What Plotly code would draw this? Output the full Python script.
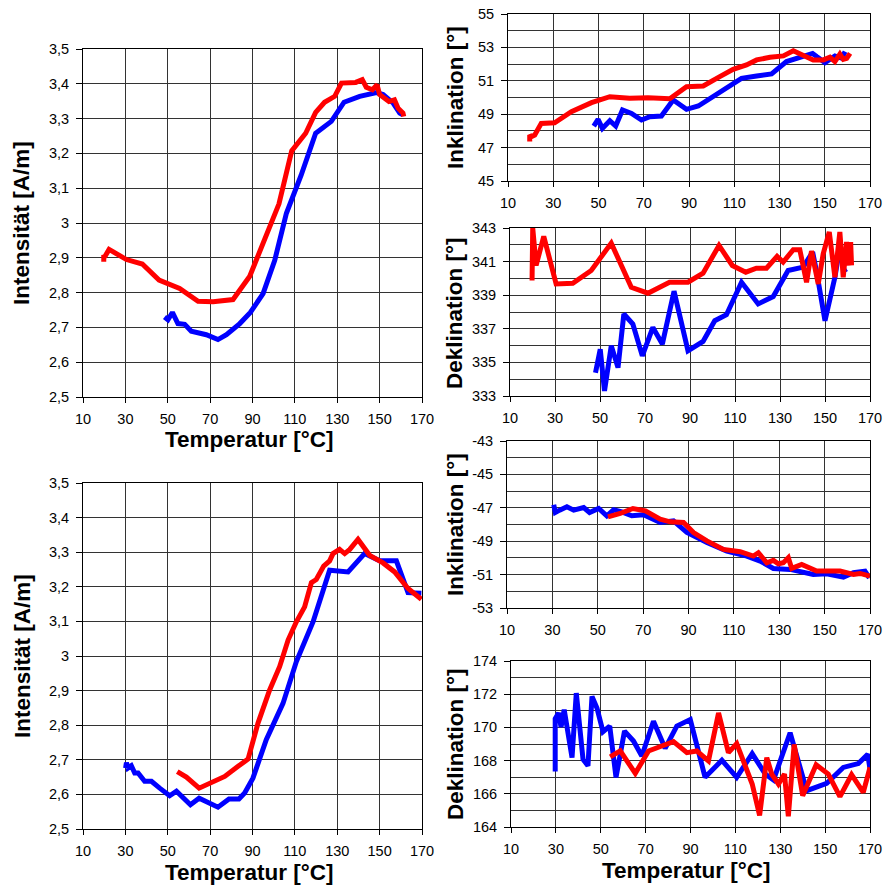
import plotly.graph_objects as go

# ---------------- data ----------------
# Top-left: Intensität
tl_blue_T = [48.5, 50.1, 52.2, 54.8, 58.0, 61.1, 68.2, 73.7, 77.7, 84.0, 89.0, 95.0, 100.5, 106.0, 113.0, 119.8, 127.2, 133.2, 140.6, 148.5, 151.6, 156.3, 159.5, 161.0]
tl_blue_v = [2.730, 2.722, 2.743, 2.711, 2.709, 2.689, 2.679, 2.665, 2.679, 2.711, 2.743, 2.797, 2.893, 3.028, 3.138, 3.258, 3.292, 3.347, 3.364, 3.375, 3.369, 3.345, 3.316, 3.311]
tl_red_T = [19.8, 19.8, 20.2, 22.3, 30.5, 38.0, 45.9, 55.6, 64.3, 71.4, 80.8, 88.7, 95.0, 102.5, 108.5, 115.1, 119.8, 124.0, 128.8, 132.0, 138.7, 141.8, 143.7, 146.6, 148.8, 150.0, 154.4, 157.0, 158.7, 161.0, 161.4]
tl_red_v = [2.889, 2.908, 2.902, 2.924, 2.895, 2.882, 2.836, 2.812, 2.775, 2.774, 2.780, 2.847, 2.941, 3.055, 3.207, 3.258, 3.318, 3.347, 3.364, 3.402, 3.404, 3.412, 3.390, 3.383, 3.397, 3.369, 3.349, 3.354, 3.330, 3.316, 3.306]

# Bottom-left: Intensität
bl_blue_T = [30.1, 30.5, 31.2, 32.8, 34.4, 36.0, 39.1, 42.3, 46.2, 50.9, 54.1, 60.7, 64.8, 69.0, 73.7, 78.9, 83.6, 86.3, 90.2, 96.5, 104.4, 110.7, 118.6, 126.4, 135.1, 142.9, 150.0, 157.9, 163.4, 169.7]
bl_blue_v = [2.676, 2.692, 2.676, 2.683, 2.662, 2.662, 2.638, 2.638, 2.618, 2.596, 2.609, 2.570, 2.589, 2.575, 2.563, 2.587, 2.587, 2.604, 2.647, 2.758, 2.863, 2.984, 3.099, 3.248, 3.243, 3.296, 3.275, 3.275, 3.183, 3.181]
bl_red_T = [54.5, 58.8, 64.8, 70.6, 76.9, 83.2, 87.9, 92.6, 98.1, 102.8, 106.8, 110.7, 114.6, 117.8, 120.1, 123.6, 126.4, 128.0, 131.1, 133.5, 135.9, 139.8, 145.3, 151.6, 157.1, 163.4, 169.7]
bl_red_v = [2.666, 2.650, 2.618, 2.633, 2.652, 2.681, 2.702, 2.806, 2.902, 2.969, 3.046, 3.099, 3.142, 3.212, 3.221, 3.260, 3.275, 3.296, 3.308, 3.296, 3.308, 3.337, 3.291, 3.269, 3.243, 3.195, 3.164]

# Top-right: Inklination
ti_blue_T = [47.9, 49.8, 51.7, 55.0, 57.6, 60.6, 64.6, 69.0, 72.7, 77.8, 83.0, 88.9, 94.1, 100.7, 106.6, 113.2, 119.9, 126.5, 133.1, 139.0, 144.6, 146.4, 150.1, 154.5, 157.5, 159.0]
ti_blue_v = [48.29, 48.69, 48.15, 48.61, 48.29, 49.25, 49.05, 48.65, 48.85, 48.89, 49.85, 49.29, 49.49, 50.05, 50.55, 51.15, 51.29, 51.41, 52.15, 52.41, 52.64, 52.45, 52.09, 52.49, 52.35, 52.75]
ti_red_T = [19.6, 19.6, 20.3, 21.8, 24.7, 30.6, 38.0, 46.9, 55.0, 63.8, 71.9, 81.5, 88.9, 96.3, 103.6, 109.5, 115.4, 119.9, 125.8, 129.5, 131.7, 136.1, 140.5, 144.9, 149.4, 152.3, 154.5, 156.7, 158.2, 159.7, 161.2]
ti_red_v = [47.36, 47.75, 47.65, 47.75, 48.45, 48.49, 49.15, 49.69, 50.05, 49.95, 49.99, 49.93, 50.65, 50.69, 51.25, 51.69, 51.95, 52.25, 52.41, 52.49, 52.49, 52.80, 52.54, 52.25, 52.25, 52.41, 52.15, 52.60, 52.29, 52.35, 52.64]

# Top-right: Deklination
td_blue_T = [48.0, 50.1, 52.0, 55.0, 58.0, 60.6, 64.6, 68.8, 73.5, 77.7, 82.9, 89.1, 95.8, 101.0, 106.2, 112.9, 120.3, 127.0, 133.6, 140.3, 144.5, 146.3, 150.0, 154.4, 156.6, 158.4, 159.6]
td_blue_v = [334.39, 335.79, 333.30, 335.99, 334.69, 337.88, 337.28, 335.39, 337.08, 336.09, 339.24, 335.69, 336.25, 337.48, 337.84, 339.77, 338.48, 338.92, 340.47, 340.67, 341.57, 340.37, 337.48, 340.07, 341.86, 340.47, 340.57]
td_red_T = [19.8, 20.1, 21.6, 25.0, 30.5, 37.9, 46.1, 55.0, 63.9, 71.3, 80.9, 89.1, 95.8, 102.9, 108.8, 114.8, 119.5, 124.0, 128.7, 131.4, 135.9, 138.8, 141.8, 144.0, 147.0, 149.2, 151.9, 154.4, 156.6, 158.1, 159.6, 160.8, 161.4, 161.8]
td_red_v = [339.87, 343.00, 340.77, 342.50, 339.67, 339.71, 340.47, 342.10, 339.47, 339.12, 339.77, 339.77, 340.31, 341.96, 340.77, 340.37, 340.61, 340.61, 341.31, 340.97, 341.71, 341.71, 339.77, 341.63, 339.67, 341.47, 342.76, 340.07, 342.76, 340.07, 342.16, 340.77, 342.16, 340.77]

# Bottom-right: Inklination
bi_blue_T = [30.6, 31.3, 33.2, 36.4, 39.4, 43.8, 46.4, 50.4, 54.0, 57.0, 60.6, 65.0, 70.2, 77.5, 83.4, 89.3, 98.1, 106.9, 115.7, 121.6, 127.4, 134.8, 145.0, 150.9, 158.3, 162.7, 167.8, 169.7]
bi_blue_v = [-46.82, -47.28, -47.14, -46.94, -47.14, -46.98, -47.28, -47.04, -47.48, -47.12, -47.24, -47.48, -47.42, -47.88, -47.78, -48.48, -49.08, -49.59, -49.89, -50.19, -50.63, -50.69, -50.99, -50.95, -51.15, -50.89, -50.79, -51.19]
bi_red_T = [54.5, 59.9, 65.5, 71.0, 77.5, 81.9, 87.8, 92.2, 98.1, 105.4, 112.8, 118.6, 120.8, 124.5, 127.4, 129.6, 131.8, 134.0, 135.5, 139.9, 146.5, 153.1, 156.8, 162.7, 165.6, 170.0]
bi_red_v = [-47.54, -47.34, -47.04, -47.18, -47.68, -47.84, -47.88, -48.48, -48.98, -49.49, -49.63, -49.89, -49.69, -50.29, -50.15, -50.35, -50.29, -49.99, -50.63, -50.39, -50.79, -50.75, -50.79, -50.99, -50.93, -51.09]

# Bottom-right: Deklination
bd_blue_T = [29.7, 29.7, 31.2, 32.3, 33.7, 37.2, 39.1, 42.1, 44.3, 46.1, 48.3, 51.0, 54.0, 56.8, 60.6, 64.6, 68.3, 73.5, 78.7, 83.9, 89.9, 96.5, 104.0, 110.6, 117.5, 123.3, 127.0, 134.4, 141.8, 150.7, 158.1, 164.8, 169.0, 170.0]
bd_blue_v = [167.35, 170.53, 170.87, 170.02, 171.07, 168.18, 172.07, 168.08, 167.69, 171.87, 171.17, 169.74, 170.08, 166.99, 169.78, 169.18, 168.28, 170.37, 168.74, 170.08, 170.47, 166.99, 168.02, 166.99, 168.42, 167.19, 166.83, 169.68, 166.19, 166.63, 167.59, 167.82, 168.38, 167.49]
bd_red_T = [54.2, 58.7, 65.4, 71.3, 77.2, 82.4, 88.4, 92.8, 98.0, 102.5, 106.9, 110.6, 117.5, 120.8, 124.0, 126.2, 129.2, 131.9, 133.6, 136.2, 140.0, 146.0, 151.4, 156.6, 161.8, 167.0, 170.0]
bd_red_v = [168.22, 168.58, 167.23, 168.58, 168.88, 169.14, 168.48, 168.58, 167.98, 170.87, 168.48, 169.02, 166.59, 164.70, 168.18, 167.19, 166.59, 167.19, 164.64, 168.98, 165.89, 167.75, 167.19, 165.83, 167.15, 166.09, 167.59]

# tick labels
x_ticks = [10, 30, 50, 70, 90, 110, 130, 150, 170]
int_ticks = [2.5, 2.6, 2.7, 2.8, 2.9, 3.0, 3.1, 3.2, 3.3, 3.4, 3.5]
int_labels = ["2,5", "2,6", "2,7", "2,8", "2,9", "3", "3,1", "3,2", "3,3", "3,4", "3,5"]
inc_top_ticks = [45, 47, 49, 51, 53, 55]
dec_top_ticks = [333, 335, 337, 339, 341, 343]
inc_bot_ticks = [-53, -51, -49, -47, -45, -43]
dec_bot_ticks = [164, 166, 168, 170, 172, 174]

xtitle = "Temperatur [°C]"
int_title = "Intensität [A/m]"
inc_title = "Inklination [°]"
dec_title = "Deklination [°]"

# ---------------- layout ----------------
W, H = 885, 886
FONT = "Liberation Sans, Arial, sans-serif"
BLUE, RED = "#0000FF", "#FF0000"
LW = 5

def xd(a, b):
    return [a / W, b / W]

def yd(top, bottom):
    return [1 - bottom / H, 1 - top / H]

panels = [
    ((83, 422), (49, 397), [2.5, 3.5], int_ticks, int_labels, None,
     (tl_blue_T, tl_blue_v), (tl_red_T, tl_red_v)),
    ((83, 422), (483, 829), [2.5, 3.5], int_ticks, int_labels, None,
     (bl_blue_T, bl_blue_v), (bl_red_T, bl_red_v)),
    ((508, 870), (14, 181), [45, 55], inc_top_ticks, [str(v) for v in inc_top_ticks], 1,
     (ti_blue_T, ti_blue_v), (ti_red_T, ti_red_v)),
    ((510, 870), (228, 396), [333, 343], dec_top_ticks, [str(v) for v in dec_top_ticks], 1,
     (td_blue_T, td_blue_v), (td_red_T, td_red_v)),
    ((507, 870), (441, 608), [-53, -43], inc_bot_ticks, [str(v) for v in inc_bot_ticks], 1,
     (bi_blue_T, bi_blue_v), (bi_red_T, bi_red_v)),
    ((511, 870), (661, 827), [164, 174], dec_bot_ticks, [str(v) for v in dec_bot_ticks], 1,
     (bd_blue_T, bd_blue_v), (bd_red_T, bd_red_v)),
]

fig = go.Figure()
layout = dict(
    width=W, height=H,
    margin=dict(l=0, r=0, t=0, b=0, pad=0, autoexpand=False),
    paper_bgcolor="white", plot_bgcolor="white",
    showlegend=False,
    font=dict(family=FONT, size=14.5, color="black"),
)

GRID = "#333333"
for i, (xpx, ypx, yr, tv, tt, minor, blue, red) in enumerate(panels):
    n = "" if i == 0 else str(i + 1)
    xa = "x" + n
    ya = "y" + n
    layout["xaxis" + n] = dict(
        domain=xd(*xpx), anchor=ya, range=[10, 170],
        tickvals=x_ticks, ticktext=[str(v) for v in x_ticks],
        showgrid=True, gridcolor=GRID, gridwidth=1,
        showline=True, linecolor="black", linewidth=1, mirror=True,
        ticks="outside", ticklen=5, tickcolor="black", ticklabelstandoff=4,
        zeroline=False, fixedrange=True, automargin=False,
        tickfont=dict(family=FONT, size=14.5, color="black"),
    )
    yax = dict(
        domain=yd(*ypx), anchor=xa, range=yr,
        tickvals=tv, ticktext=tt,
        showgrid=True, gridcolor=GRID, gridwidth=1,
        showline=True, linecolor="black", linewidth=1, mirror=True,
        ticks="outside", ticklen=6, tickcolor="black", ticklabelstandoff=4,
        zeroline=False, fixedrange=True, automargin=False,
        tickfont=dict(family=FONT, size=14.5, color="black"),
    )
    if minor:
        yax["minor"] = dict(dtick=minor, tick0=yr[0], showgrid=True,
                            gridcolor=GRID, gridwidth=1, ticks="")
    layout["yaxis" + n] = yax
    fig.add_trace(go.Scatter(x=blue[0], y=blue[1], mode="lines", xaxis=xa, yaxis=ya,
                             line=dict(color=BLUE, width=LW), cliponaxis=True))
    fig.add_trace(go.Scatter(x=red[0], y=red[1], mode="lines", xaxis=xa, yaxis=ya,
                             line=dict(color=RED, width=LW), cliponaxis=True))

TF = dict(family=FONT, size=22.5, color="black")
ann = []
def text_at(x, y, s, angle=0):
    ann.append(dict(x=x / W, y=1 - y / H, xref="paper", yref="paper", text="<b>%s</b>" % s,
                    showarrow=False, textangle=angle, font=TF,
                    xanchor="center", yanchor="middle"))

text_at(249, 439, xtitle)
text_at(249, 872, xtitle)
text_at(686, 870, xtitle)
text_at(22, 223, int_title, -90)
text_at(22, 656, int_title, -90)
text_at(455, 98, inc_title, -90)
text_at(455, 313, dec_title, -90)
text_at(455, 525, inc_title, -90)
text_at(455, 744, dec_title, -90)
layout["annotations"] = ann

fig.update_layout(**layout)
fig.write_html("out.html", config={"displayModeBar": False, "staticPlot": True},
               post_script="document.body.style.margin='0';document.body.style.overflow='hidden';")
